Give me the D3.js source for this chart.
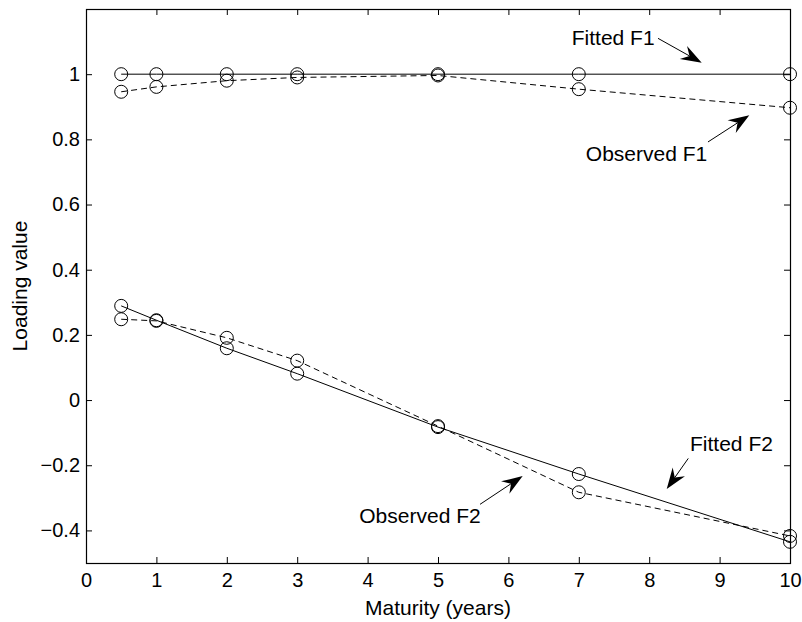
<!DOCTYPE html>
<html>
<head>
<meta charset="utf-8">
<script src="https://cdn.jsdelivr.net/npm/d3@7"></script>
<style>
  body { margin: 0; background: #fff; }
  svg { display: block; font-family: "Liberation Sans", Arial, sans-serif; }
  .tick line { stroke: #000; }
  .domain { display: none; }
</style>
</head>
<body>
<svg id="chart" width="802" height="622"></svg>
<script>
// ── data ──────────────────────────────────────────────────────────────────
const maturity = [0.5, 1, 2, 3, 5, 7, 10];
const fittedF1 = [1, 1, 1, 1, 1, 1, 1];
const observedF1 = [0.946, 0.961, 0.98, 0.99, 0.996, 0.954, 0.897];
const fittedF2 = [0.289, 0.245, 0.159, 0.081, -0.083, -0.227, -0.435];
const observedF2 = [0.248, 0.243, 0.191, 0.121, -0.08, -0.283, -0.417];

const xTicks = [0, 1, 2, 3, 4, 5, 6, 7, 8, 9, 10];
const yTicks = [-0.4, -0.2, 0, 0.2, 0.4, 0.6, 0.8, 1];

// annotation label (text anchor) + arrow tail/tip, in data units
const notes = [
  { label: "Fitted F1", tx: 6.9, ty: 1.091, ax: [8.125, 1.11], bx: [8.746, 1.035] },
  { label: "Observed F1", tx: 7.1, ty: 0.734, ax: [8.835, 0.792], bx: [9.422, 0.874] },
  { label: "Fitted F2", tx: 8.58, ty: -0.156, ax: [8.555, -0.179], bx: [8.249, -0.273] },
  { label: "Observed F2", tx: 3.882, ty: -0.377, ax: [5.597, -0.32], bx: [6.203, -0.233] },
];

// ── layout ────────────────────────────────────────────────────────────────
const svg = d3.select("#chart");
const m = { top: 9, right: 12, bottom: 59, left: 86 };
const W = 802 - m.left - m.right;
const H = 622 - m.top - m.bottom;

const g = svg.append("g").attr("transform", `translate(${m.left},${m.top})`);

const x = d3.scaleLinear().domain([0, 10]).range([0, W]);
const y = d3.scaleLinear().domain([-0.5, 1.2]).range([H, 0]);

// axes (ticks pointing inward, matlab style)
const tickLen = 6;
g.append("g")
  .attr("transform", `translate(0,${H})`)
  .call(d3.axisBottom(x).tickValues(xTicks).tickSizeInner(-tickLen).tickSizeOuter(0).tickPadding(10).tickFormat(d3.format("d")));
g.append("g")
  .call(d3.axisLeft(y).tickValues(yTicks).tickSizeInner(-tickLen).tickSizeOuter(0).tickPadding(6).tickFormat((d) => (d === 0 ? "0" : d3.format("~g")(d))));
g.append("g")
  .call(d3.axisTop(x).tickValues(xTicks).tickSizeInner(-tickLen).tickSizeOuter(0).tickFormat(""));
g.append("g")
  .attr("transform", `translate(${W},0)`)
  .call(d3.axisRight(y).tickValues(yTicks).tickSizeInner(-tickLen).tickSizeOuter(0).tickFormat(""));

g.selectAll(".tick text").attr("font-size", 20).attr("fill", "#000").attr("font-family", "Liberation Sans, Arial, sans-serif");

// box
g.append("rect")
  .attr("x", 0.5).attr("y", 0.5)
  .attr("width", W).attr("height", H)
  .attr("fill", "none").attr("stroke", "#000").attr("stroke-width", 1.2);

// ── series ────────────────────────────────────────────────────────────────
const series = [
  { vals: fittedF1, dash: null },
  { vals: observedF1, dash: "6,4" },
  { vals: fittedF2, dash: null },
  { vals: observedF2, dash: "6,4" },
];

const line = d3.line().x((d) => x(d[0])).y((d) => y(d[1]));

series.forEach((s) => {
  const pts = maturity.map((mx, i) => [mx, s.vals[i]]);
  g.append("path")
    .attr("d", line(pts))
    .attr("fill", "none")
    .attr("stroke", "#000")
    .attr("stroke-width", 1)
    .attr("stroke-dasharray", s.dash);
  g.selectAll(null)
    .data(pts)
    .enter()
    .append("circle")
    .attr("cx", (d) => x(d[0]))
    .attr("cy", (d) => y(d[1]))
    .attr("r", 6.5)
    .attr("fill", "none")
    .attr("stroke", "#000")
    .attr("stroke-width", 1);
});

// ── annotations ───────────────────────────────────────────────────────────
notes.forEach((n) => {
  g.append("text")
    .attr("x", x(n.tx))
    .attr("y", y(n.ty))
    .attr("font-size", 21)
    .text(n.label);

  const x0 = x(n.ax[0]), y0 = y(n.ax[1]);
  const x1 = x(n.bx[0]), y1 = y(n.bx[1]);
  const ang = Math.atan2(y1 - y0, x1 - x0);
  const len = 21, half = 7.5, notch = 7;
  const ux = Math.cos(ang), uy = Math.sin(ang);
  const px = -uy, py = ux;
  const bx = x1 - ux * len, by = y1 - uy * len;
  const nx = x1 - ux * (len - notch), ny = y1 - uy * (len - notch);

  g.append("line")
    .attr("x1", x0).attr("y1", y0)
    .attr("x2", nx).attr("y2", ny)
    .attr("stroke", "#000").attr("stroke-width", 1);

  g.append("path")
    .attr("d", `M${x1},${y1}L${bx + px * half},${by + py * half}L${nx},${ny}L${bx - px * half},${by - py * half}Z`)
    .attr("fill", "#000");
});

// axis labels
svg.append("text")
  .attr("x", m.left + W / 2)
  .attr("y", 615)
  .attr("text-anchor", "middle")
  .attr("font-size", 21)
  .text("Maturity (years)");

svg.append("text")
  .attr("transform", "rotate(-90)")
  .attr("x", -(m.top + H / 2))
  .attr("y", 27)
  .attr("text-anchor", "middle")
  .attr("font-size", 21)
  .text("Loading value");
</script>
</body>
</html>
